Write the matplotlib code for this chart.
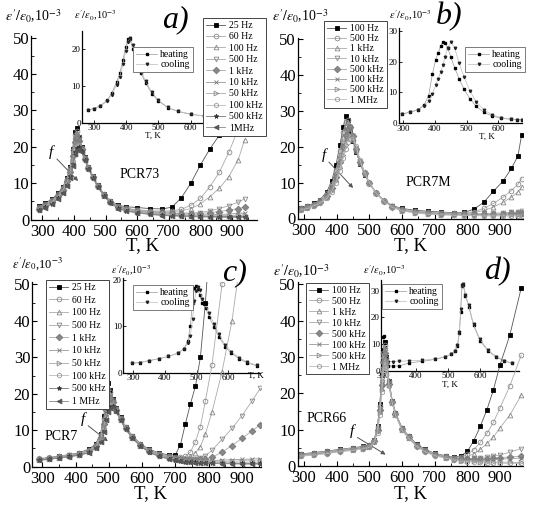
import numpy as np
import matplotlib
matplotlib.use("Agg")
import matplotlib.pyplot as plt

plt.rcParams['font.family'] = 'serif'
plt.rcParams['font.serif'] = ['Liberation Serif', 'DejaVu Serif']
plt.rcParams['mathtext.fontset'] = 'stix'

W, H = 550, 512

# ---------------- data ----------------
# panel a) PCR73
Ta = [290, 310, 330, 350, 365, 378, 388, 396, 403, 409, 416, 424, 434, 446, 460, 476,
      495, 515, 540, 565, 600, 640, 680, 710, 740, 770, 800, 830, 860, 890, 920, 940]
a25 = [3.8, 4.5, 5.6, 7.2, 9.0, 11.5, 14.5, 19.5, 24.0, 25.3, 22.8, 20.0, 17.2, 14.5, 11.9, 9.4,
       7.0, 5.2, 3.9, 3.5, 3.3, 3.0, 2.9, 3.4, 6.0, 10.0, 15.0, 19.4, 23.2, 28.0, 33.0, 37.0]
a60 = [3.5, 4.3, 5.4, 7.0, 8.8, 11.2, 14.2, 19.0, 23.2, 24.4, 22.6, 19.8, 17.0, 14.4, 11.8, 9.3,
       6.9, 5.1, 3.7, 3.1, 2.7, 2.4, 2.3, 2.4, 2.8, 3.9, 5.8, 9.0, 13.0, 18.5, 25.0, 29.0]
a100 = [3.3, 4.1, 5.2, 6.8, 8.6, 11.0, 13.9, 18.5, 22.7, 23.8, 22.4, 19.7, 16.9, 14.3, 11.7, 9.2,
        6.8, 5.0, 3.6, 3.0, 2.6, 2.3, 2.1, 2.2, 2.4, 3.0, 4.3, 6.3, 8.6, 11.8, 16.5, 22.0]
a500 = [3.1, 3.9, 5.0, 6.6, 8.4, 10.7, 13.5, 18.0, 22.0, 23.0, 22.0, 19.5, 16.8, 14.2, 11.6, 9.1,
        6.7, 4.9, 3.5, 2.9, 2.5, 2.1, 1.9, 1.8, 1.8, 1.8, 1.9, 2.4, 3.0, 3.8, 4.8, 5.7]
a1k = [3.0, 3.8, 4.9, 6.5, 8.2, 10.5, 13.2, 17.5, 21.3, 22.4, 21.6, 19.4, 16.7, 14.2, 11.6, 9.1,
       6.7, 4.9, 3.4, 2.8, 2.4, 2.0, 1.8, 1.7, 1.6, 1.6, 1.6, 1.9, 2.2, 2.6, 3.0, 3.4]
a10k = [2.9, 3.7, 4.8, 6.3, 8.0, 10.2, 12.8, 16.8, 20.4, 21.4, 21.2, 19.2, 16.6, 14.1, 11.6, 9.1,
        6.6, 4.8, 3.3, 2.7, 2.2, 1.8, 1.6, 1.4, 1.3, 1.2, 1.2, 1.3, 1.4, 1.5, 1.7, 1.8]
a50k = [2.8, 3.6, 4.7, 6.1, 7.8, 10.0, 12.5, 16.2, 19.8, 20.8, 20.9, 19.1, 16.6, 14.1, 11.6, 9.1,
        6.6, 4.8, 3.2, 2.6, 2.1, 1.7, 1.5, 1.3, 1.2, 1.1, 1.1, 1.1, 1.1, 1.1, 1.2, 1.2]
a100k = [2.7, 3.5, 4.6, 6.0, 7.6, 9.8, 12.2, 15.8, 19.3, 20.3, 20.5, 19.0, 16.5, 14.0, 11.5, 9.0,
         6.5, 4.7, 3.1, 2.5, 2.0, 1.6, 1.4, 1.2, 1.1, 1.0, 1.0, 1.0, 1.0, 1.0, 1.0, 1.0]
a500k = [2.6, 3.4, 4.4, 5.8, 7.4, 9.5, 11.9, 15.3, 18.7, 19.7, 20.0, 18.8, 16.4, 14.0, 11.5, 9.0,
         6.5, 4.7, 3.1, 2.4, 1.9, 1.5, 1.2, 1.1, 1.0, 0.9, 0.9, 0.8, 0.8, 0.8, 0.8, 0.8]
a1M = [2.5, 3.3, 4.3, 5.6, 7.2, 9.2, 11.5, 14.8, 18.0, 19.1, 19.5, 18.6, 16.3, 13.9, 11.4, 8.9,
       6.4, 4.6, 3.0, 2.3, 1.8, 1.4, 1.1, 1.0, 0.9, 0.8, 0.7, 0.7, 0.6, 0.6, 0.6, 0.6]
a_labels = ['25 Hz', '60 Hz', '100 Hz', '500 Hz', '1 kHz', '10 kHz', '50 kHz', '100 kHz', '500 kHz', '1MHz']

Ta_in = [280, 300, 320, 340, 355, 370, 380, 390, 398, 405, 412, 420, 430, 445, 460, 480, 500,
         530, 560, 600, 640, 680, 700]
a_heat = [3.4, 3.8, 4.6, 6.0, 8.0, 11.0, 13.5, 17.0, 20.5, 22.8, 22.6, 20.0, 17.2, 13.6, 10.8, 7.8,
          5.8, 4.0, 3.0, 2.2, 1.8, 1.5, 1.4]
a_cool = [3.5, 3.6, 4.4, 5.8, 7.6, 10.2, 12.5, 15.8, 19.5, 22.0, 23.0, 21.0, 18.0, 14.2, 11.2, 8.2,
          6.0, 4.1, 3.1, 2.3, 1.8, 1.5, 1.4]

# panel b) PCR7M
Tb = [290, 310, 330, 350, 370, 385, 398, 410, 420, 428, 435, 442, 450, 460, 472, 486, 500,
      520, 545, 570, 600, 640, 680, 720, 760, 790, 820, 850, 880, 910, 935, 955, 966]
b100 = [3.0, 3.5, 4.2, 5.3, 7.5, 10.5, 15.0, 20.5, 25.5, 28.5, 27.5, 24.5, 21.5, 18.5, 15.2, 12.2, 9.8,
        7.2, 5.0, 3.6, 2.8, 2.3, 2.0, 1.8, 1.6, 1.7, 2.6, 4.5, 7.6, 10.5, 14.0, 17.5, 23.2]
b500 = [2.9, 3.4, 4.1, 5.1, 7.0, 9.6, 13.5, 18.8, 24.0, 27.0, 27.5, 25.2, 22.0, 18.8, 15.4, 12.3, 9.8,
        7.2, 5.0, 3.5, 2.6, 2.1, 1.8, 1.6, 1.5, 1.6, 1.9, 2.8, 4.2, 6.0, 7.8, 9.5, 11.1]
b1k = [2.8, 3.3, 4.0, 5.0, 6.8, 9.2, 12.8, 17.8, 22.8, 26.0, 27.0, 25.3, 22.3, 19.0, 15.5, 12.4, 9.9,
       7.2, 5.0, 3.5, 2.5, 2.0, 1.7, 1.5, 1.4, 1.5, 1.7, 2.2, 3.2, 4.5, 6.0, 7.4, 8.8]
b10k = [2.7, 3.2, 3.9, 4.8, 6.5, 8.8, 12.0, 16.5, 21.0, 24.2, 25.8, 25.5, 22.8, 19.3, 15.7, 12.5, 9.9,
        7.2, 4.9, 3.4, 2.4, 1.9, 1.6, 1.4, 1.3, 1.3, 1.3, 1.4, 1.5, 1.6, 1.7, 1.9, 2.0]
b50k = [2.6, 3.1, 3.8, 4.7, 6.3, 8.5, 11.5, 15.8, 20.0, 23.2, 25.0, 25.4, 23.0, 19.5, 15.8, 12.6, 9.9,
        7.2, 4.9, 3.3, 2.3, 1.8, 1.5, 1.3, 1.2, 1.2, 1.2, 1.2, 1.3, 1.3, 1.4, 1.4, 1.5]
b100k = [2.5, 3.0, 3.7, 4.6, 6.1, 8.2, 11.0, 15.0, 19.0, 22.2, 24.2, 25.0, 23.2, 19.7, 15.9, 12.7, 10.0,
         7.2, 4.9, 3.3, 2.3, 1.7, 1.4, 1.2, 1.1, 1.1, 1.1, 1.1, 1.1, 1.1, 1.1, 1.1, 1.1]
b500k = [2.4, 2.9, 3.6, 4.4, 5.8, 7.8, 10.4, 14.0, 17.7, 20.5, 22.4, 23.4, 23.2, 20.0, 16.0, 12.8, 10.0,
         7.2, 4.8, 3.2, 2.2, 1.6, 1.3, 1.1, 1.0, 0.9, 0.9, 0.9, 0.9, 0.9, 0.9, 0.9, 0.9]
b1M = [2.3, 2.8, 3.5, 4.3, 5.6, 7.5, 10.0, 13.3, 16.8, 19.5, 21.3, 22.3, 22.5, 20.2, 16.2, 12.9, 10.0,
       7.2, 4.8, 3.1, 2.1, 1.5, 1.2, 1.0, 0.9, 0.8, 0.8, 0.7, 0.7, 0.7, 0.7, 0.7, 0.7]
b_labels = ['100 Hz', '500 Hz', '1 kHz', '10 kHz', '500 kHz', '100 kHz', '500 kHz', '1 MHz']

Tb_in = [295, 320, 345, 365, 380, 392, 402, 410, 418, 425, 432, 440, 450, 462, 476, 492, 510,
         530, 555, 580, 610, 640, 660, 675]
b_heat = [3.0, 3.6, 4.4, 5.8, 9.0, 16.0, 20.5, 22.8, 25.0, 26.4, 26.0, 24.5, 21.5, 18.0, 14.5, 11.0,
          8.0, 5.5, 3.5, 2.4, 1.6, 1.3, 1.2, 1.1]
b_cool = [3.0, 3.5, 4.3, 5.6, 7.2, 9.5, 12.3, 14.5, 16.5, 18.8, 21.5, 24.5, 26.4, 24.5, 19.5, 15.0,
          10.5, 7.0, 4.3, 2.8, 1.8, 1.4, 1.2, 1.1]

# panel c) PCR7
Tc = [290, 320, 350, 380, 410, 440, 460, 475, 485, 492, 498, 504, 512, 522, 535, 550, 570,
      595, 620, 650, 680, 700, 715, 730, 745, 760, 775, 790, 810, 840, 870, 900, 930, 955]
c25 = [2.2, 2.5, 2.9, 3.3, 3.8, 4.8, 6.2, 9.0, 14.0, 19.5, 23.0, 21.0, 18.5, 16.0, 13.5, 11.0, 8.5,
       6.3, 4.8, 3.8, 3.2, 3.3, 6.0, 11.8, 17.2, 22.0, 30.0, 45.0, 70.0, None, None, None, None, None]
c60 = [2.1, 2.4, 2.8, 3.2, 3.7, 4.6, 6.0, 8.6, 13.2, 18.0, 21.2, 20.4, 18.2, 15.9, 13.4, 10.9, 8.4,
       6.2, 4.7, 3.6, 3.0, 2.7, 2.6, 2.8, 4.0, 6.8, 11.0, 18.0, 28.0, 50.0, 80.0, None, None, None]
c100 = [2.1, 2.4, 2.8, 3.2, 3.6, 4.5, 5.9, 8.3, 12.6, 17.0, 20.0, 20.0, 18.0, 15.8, 13.3, 10.8, 8.3,
        6.1, 4.6, 3.5, 2.8, 2.5, 2.4, 2.4, 2.8, 3.8, 5.5, 9.0, 15.0, 26.0, 40.0, 60.0, None, None]
c500 = [2.0, 2.3, 2.7, 3.1, 3.5, 4.4, 5.7, 8.0, 12.0, 16.2, 19.0, 19.4, 17.8, 15.7, 13.2, 10.7, 8.2,
        6.0, 4.5, 3.4, 2.7, 2.3, 2.1, 2.0, 2.0, 2.1, 2.3, 3.0, 4.5, 7.5, 10.5, 14.0, 18.0, 21.5]
c1k = [2.0, 2.3, 2.7, 3.0, 3.4, 4.3, 5.6, 7.8, 11.6, 15.6, 18.2, 18.8, 17.6, 15.6, 13.1, 10.6, 8.1,
       5.9, 4.4, 3.3, 2.6, 2.2, 2.0, 1.9, 1.9, 1.9, 2.0, 2.2, 2.6, 4.0, 5.8, 7.8, 9.8, 11.5]
c10k = [1.9, 2.2, 2.6, 2.9, 3.3, 4.2, 5.4, 7.5, 11.0, 14.8, 17.2, 18.0, 17.3, 15.5, 13.0, 10.5, 8.0,
        5.8, 4.3, 3.2, 2.5, 2.1, 1.9, 1.7, 1.6, 1.6, 1.6, 1.6, 1.7, 1.8, 1.9, 2.0, 2.1, 2.2]
c50k = [1.9, 2.2, 2.5, 2.9, 3.3, 4.1, 5.3, 7.3, 10.6, 14.2, 16.6, 17.5, 17.0, 15.4, 12.9, 10.5, 8.0,
        5.8, 4.2, 3.1, 2.4, 2.0, 1.8, 1.6, 1.5, 1.5, 1.5, 1.5, 1.5, 1.5, 1.5, 1.6, 1.6, 1.6]
c100k = [1.8, 2.1, 2.5, 2.8, 3.2, 4.0, 5.2, 7.1, 10.2, 13.7, 16.0, 17.0, 16.8, 15.3, 12.9, 10.4, 7.9,
         5.7, 4.1, 3.0, 2.3, 1.9, 1.7, 1.5, 1.4, 1.4, 1.3, 1.3, 1.3, 1.2, 1.2, 1.2, 1.2, 1.2]
c500k = [1.8, 2.1, 2.4, 2.8, 3.2, 3.9, 5.1, 6.9, 9.8, 13.2, 15.5, 16.5, 16.6, 15.2, 12.8, 10.4, 7.9,
         5.7, 4.1, 2.9, 2.2, 1.8, 1.6, 1.4, 1.3, 1.2, 1.1, 1.1, 1.0, 1.0, 0.9, 0.9, 0.9, 0.9]
c1M = [1.7, 2.0, 2.4, 2.7, 3.1, 3.8, 5.0, 6.7, 9.4, 12.7, 15.0, 16.0, 16.3, 15.0, 12.8, 10.3, 7.8,
       5.6, 4.0, 2.8, 2.1, 1.7, 1.5, 1.3, 1.2, 1.1, 1.0, 0.9, 0.9, 0.8, 0.8, 0.7, 0.7, 0.7]
c_labels = ['25 Hz', '60 Hz', '100 Hz', '500 Hz', '1 kHz', '10 kHz', '50 kHz', '100 kHz', '500 kHz', '1 MHz']

Tc_in = [295, 320, 350, 380, 410, 440, 460, 472, 480, 487, 493, 498, 503, 510, 518, 528, 540,
         555, 570, 590, 610, 635, 660, 690]
c_heat = [2.0, 2.2, 2.6, 3.0, 3.5, 4.2, 5.2, 6.8, 10.0, 15.0, 18.3, 18.6, 18.0, 16.8, 15.0, 14.0,
          12.0, 9.8, 7.8, 5.6, 4.2, 3.0, 2.1, 1.5]
c_cool = [2.0, 2.2, 2.6, 3.0, 3.5, 4.2, 5.1, 6.3, 8.0, 11.5, 15.5, 17.6, 18.5, 17.8, 16.0, 14.8,
          12.8, 10.5, 8.4, 6.0, 4.5, 3.2, 2.3, 1.6]

# panel d) PCR66
Td = [290, 330, 370, 410, 450, 480, 500, 515, 525, 532, 538, 543, 547, 552, 560, 570, 580,
      600, 620, 645, 670, 700, 735, 760, 780, 800, 820, 840, 860, 880, 900, 930, 965]
d100 = [3.3, 3.7, 4.1, 4.6, 5.0, 5.4, 5.8, 7.2, 11.0, 17.0, 25.0, 32.0, 34.0, 30.0, 23.5, 18.0, 14.7,
        10.5, 8.3, 6.0, 4.6, 3.5, 2.8, 2.4, 2.8, 4.0, 7.0, 11.0, 15.5, 21.0, 27.8, 36.0, 49.0]
d500 = [3.2, 3.6, 4.0, 4.5, 4.9, 5.3, 5.7, 7.1, 10.8, 16.6, 24.4, 31.2, 33.2, 29.6, 23.3, 17.9, 14.6,
        10.4, 8.2, 5.9, 4.5, 3.4, 2.7, 2.3, 2.6, 3.2, 4.5, 6.5, 9.0, 12.0, 16.0, 22.0, 30.5]
d1k = [3.1, 3.5, 3.9, 4.4, 4.8, 5.2, 5.6, 7.0, 10.5, 16.2, 23.8, 30.4, 32.5, 29.2, 23.1, 17.8, 14.5,
       10.3, 8.1, 5.8, 4.4, 3.3, 2.6, 2.2, 2.3, 2.6, 3.4, 4.6, 6.2, 8.0, 10.5, 14.0, 19.5]
d10k = [3.0, 3.4, 3.8, 4.3, 4.7, 5.1, 5.5, 6.9, 10.2, 15.7, 23.0, 29.5, 31.8, 28.8, 22.9, 17.7, 14.4,
        10.2, 8.0, 5.7, 4.3, 3.2, 2.5, 2.1, 2.0, 2.0, 2.1, 2.3, 2.5, 2.8, 3.0, 3.8, 4.8]
d50k = [2.9, 3.3, 3.7, 4.2, 4.6, 5.0, 5.4, 6.8, 10.0, 15.3, 22.3, 28.6, 31.0, 28.4, 22.7, 17.6, 14.3,
        10.1, 7.9, 5.6, 4.2, 3.1, 2.4, 2.0, 1.8, 1.8, 1.8, 1.9, 2.0, 2.1, 2.3, 2.5, 2.7]
d100k = [2.9, 3.2, 3.6, 4.1, 4.5, 4.9, 5.3, 6.7, 9.8, 14.9, 21.6, 27.7, 30.2, 28.0, 22.5, 17.5, 14.2,
         10.0, 7.8, 5.5, 4.1, 3.0, 2.3, 1.9, 1.7, 1.6, 1.6, 1.7, 1.7, 1.8, 1.9, 2.0, 2.2]
d500k = [2.8, 3.1, 3.5, 4.0, 4.4, 4.8, 5.2, 6.6, 9.5, 14.5, 21.0, 26.8, 29.3, 27.6, 22.3, 17.4, 14.1,
         9.9, 7.7, 5.4, 4.0, 2.9, 2.2, 1.7, 1.5, 1.4, 1.3, 1.2, 1.2, 1.1, 1.1, 1.0, 1.0]
d1M = [2.7, 3.0, 3.4, 3.9, 4.3, 4.7, 5.1, 6.5, 9.2, 14.0, 20.3, 25.8, 28.4, 27.2, 22.1, 17.3, 14.0,
       9.8, 7.6, 5.3, 3.9, 2.8, 2.1, 1.6, 1.3, 1.2, 1.1, 1.0, 0.9, 0.9, 0.8, 0.7, 0.7]
d_labels = ['100 Hz', '500 Hz', '1 kHz', '10 kHz', '500 kHz', '100 kHz', '500 kHz', '1 MHz']

Td_in = [298, 301, 304, 308, 315, 330, 350, 380, 420, 460, 490, 510, 522, 530, 536, 540, 544,
         548, 555, 565, 580, 600, 625, 650, 675, 700]
d_heat = [12.5, 13.0, 9.0, 3.0, 2.0, 1.8, 1.9, 3.0, 3.6, 4.3, 5.2, 6.2, 7.5, 9.5, 14.0, 22.0, 31.5,
          32.0, 28.0, 24.0, 17.0, 11.3, 7.5, 5.2, 3.8, 2.8]
d_cool = [3.0, 3.2, 3.3, 3.4, 3.4, 3.5, 3.6, 3.8, 4.0, 4.5, 5.3, 6.3, 7.6, 9.6, 14.5, 23.0, 32.0,
          32.5, 28.5, 24.5, 17.5, 11.8, 7.8, 5.4, 3.9, 2.8]

# marker styles: (marker, face, edge, line colour)
styles10 = [('s', 'k', 'k', '#555'), ('o', 'none', '#888', '#aaa'), ('^', 'none', '#888', '#aaa'),
            ('v', 'none', '#888', '#aaa'), ('D', '#888', '#777', '#aaa'), ('x', '#777', '#777', '#999'),
            ('>', 'none', '#888', '#aaa'), ('h', 'none', '#999', '#bbb'), ('*', '#333', '#333', '#777'),
            ('<', '#555', '#555', '#888')]
styles8 = styles10[:8]

fig = plt.figure(figsize=(5.5, 5.12), dpi=100)


def place(x0v, x0p, x1v, x1p, xlim, y0p, y1v, y1p, ylim, z):
    sx = (x1p - x0p) / (x1v - x0v)
    left = x0p + (xlim[0] - x0v) * sx
    right = x0p + (xlim[1] - x0v) * sx
    sy = (y0p - y1p) / y1v
    bottom = y0p - ylim[0] * sy
    top = y0p - ylim[1] * sy
    ax = fig.add_axes([left / W, 1 - bottom / H, (right - left) / W, (bottom - top) / H], zorder=z)
    ax.set_xlim(xlim)
    ax.set_ylim(ylim)
    ax.patch.set_alpha(0)
    for s in ['top', 'right']:
        ax.spines[s].set_visible(False)
    for s in ['left', 'bottom']:
        ax.spines[s].set_linewidth(0.9)
    return ax


def main_panel(ax, T, series, labels, styles, leg_xy, spacing, legsize=7):
    for ys, lab, (m, fc, ec, lc) in zip(series, labels, styles):
        y = np.array(ys, dtype=float)
        ax.plot(T, y, color=lc, lw=0.6, marker=m, ms=3.4, mfc=fc, mec=ec, mew=0.6, label=lab)
    ax.set_xticks([300, 400, 500, 600, 700, 800, 900])
    ax.set_yticks([0, 10, 20, 30, 40, 50])
    ax.set_xticks(np.arange(300, 951, 50), minor=True)
    ax.set_yticks(np.arange(0, 51, 5), minor=True)
    ax.tick_params(which='both', direction='in', labelsize=12)
    ax.tick_params(axis='x', pad=3)
    ax.tick_params(axis='y', pad=1.5)
    ax.tick_params(which='major', length=3.5, width=0.8)
    ax.tick_params(which='minor', length=2, width=0.6)
    leg = ax.legend(loc='upper left', bbox_to_anchor=(leg_xy[0] / W, 1 - leg_xy[1] / H),
                    bbox_transform=fig.transFigure, fontsize=legsize, frameon=True, fancybox=False,
                    edgecolor='#444', framealpha=1, borderpad=0.3, handlelength=2.0,
                    handletextpad=0.4, labelspacing=spacing, borderaxespad=0)
    leg.get_frame().set_linewidth(0.7)


def inset_panel(ax, T, heat, cool, xt, yt, leg_xy):
    ax.plot(T, heat, color='#999', lw=0.5, marker='s', ms=1.8, mfc='k', mec='k', label='heating')
    ax.plot(T, cool, color='#bbb', lw=0.5, marker='v', ms=1.8, mfc='#222', mec='#222', label='cooling')
    ax.set_xticks(xt)
    ax.set_yticks(yt)
    ax.tick_params(direction='in', labelsize=6.5, length=2.5, width=0.6, pad=1)
    leg = ax.legend(loc='upper left', bbox_to_anchor=(leg_xy[0] / W, 1 - leg_xy[1] / H),
                    bbox_transform=fig.transFigure, fontsize=7, frameon=True, fancybox=False,
                    edgecolor='#666', framealpha=1, borderpad=0.3, handlelength=2.2,
                    handletextpad=0.3, labelspacing=0.15, borderaxespad=0)
    leg.get_frame().set_linewidth(0.6)


def ftext(x, y, s, **kw):
    fig.text(x / W, 1 - y / H, s, **kw)


def f_arrow(xt, yt, x0, y0, x1, y1):
    ftext(xt, yt, 'f', fontsize=11, style='italic', ha='center', va='center')
    fig.add_artist(matplotlib.patches.FancyArrowPatch(
        (x0 / W, 1 - y0 / H), (x1 / W, 1 - y1 / H), transform=fig.transFigure,
        arrowstyle='-|>', mutation_scale=6, color='#555', lw=0.7))


ylab = r"$\varepsilon'/\varepsilon_0$,10$^{-3}$"
xt_in = [300, 400, 500, 600]

# ----- panel a
ins = place(300, 94, 600, 190.7, (263, 700), 122.5, 20, 49, (0, 25), 1)
inset_panel(ins, Ta_in, a_heat, a_cool, xt_in, [0, 10, 20], (133, 47))
ins.set_xlabel('T, K', fontsize=6.5, labelpad=0)
ax = place(300, 42.3, 900, 232, (265, 980), 219.5, 50, 37.7, (0, 50.5), 2)
main_panel(ax, Ta, [a25, a60, a100, a500, a1k, a10k, a50k, a100k, a500k, a1M], a_labels,
           styles10, (203, 18), 0.25)
ftext(33, 16, ylab, fontsize=10, ha='center', va='center')
ftext(95, 16, ylab, fontsize=7.5, ha='center', va='center')
ftext(175, 20, 'a)', fontsize=23, style='italic', ha='center', va='center')
ftext(142, 246, 'T, K', fontsize=13.5, ha='center', va='center')
ftext(140, 175, 'PCR73', fontsize=10, ha='center', va='center')
f_arrow(51, 152, 55, 157, 80, 183)

# ----- panel b
ins = place(300, 403.3, 600, 498.3, (286, 675), 123.3, 30, 30.7, (0, 31), 1)
inset_panel(ins, Tb_in, b_heat, b_cool, xt_in, [0, 10, 20, 30], (465, 47))
ftext(487, 137, 'T, K', fontsize=6.5, ha='center', va='center')
ax = place(300, 304, 900, 500, (282, 970), 218.5, 50, 39.3, (0, 50.5), 2)
main_panel(ax, Tb, [b100, b500, b1k, b10k, b50k, b100k, b500k, b1M], b_labels,
           styles8, (324, 21), 0.13)
ftext(300, 16, ylab, fontsize=10, ha='center', va='center')
ftext(410, 16, ylab, fontsize=7.5, ha='center', va='center')
ftext(449, 17, 'b)', fontsize=23, style='italic', ha='center', va='center')
ftext(410, 246, 'T, K', fontsize=13.5, ha='center', va='center')
ftext(428, 182, 'PCR7M', fontsize=10, ha='center', va='center')
f_arrow(324, 155, 327, 160, 355, 190)

# ----- panel c
ins = place(300, 133.3, 600, 228.3, (268, 700), 372.7, 20, 280, (0, 20.5), 1)
inset_panel(ins, Tc_in, c_heat, c_cool, xt_in, [0, 10, 20], (133, 285))
ax = place(300, 42.3, 900, 242, (270, 957), 466.7, 50, 284.3, (0, 50.5), 2)
main_panel(ax, Tc, [c25, c60, c100, c500, c1k, c10k, c50k, c100k, c500k, c1M], c_labels,
           styles10, (46, 280), 0.38)
ftext(38, 264, ylab, fontsize=9, ha='center', va='center')
ftext(131, 271, ylab, fontsize=7, ha='center', va='center')
ftext(234, 273, 'c)', fontsize=23, style='italic', ha='center', va='center')
ftext(248, 376, 'T, K', fontsize=6.5, ha='left', va='center')
ftext(150, 494, 'T, K', fontsize=13.5, ha='center', va='center')
ftext(61, 436, 'PCR7', fontsize=10, ha='center', va='center')
f_arrow(83, 419, 86, 424, 110, 443)

# ----- panel d
ins = place(300, 383.3, 600, 480, (294, 720), 371, 30, 290.5, (0, 34), 1)
inset_panel(ins, Td_in, d_heat, d_cool, xt_in, [0, 10, 20, 30], (382, 284))
ins.set_xlabel('T, K', fontsize=6.5, labelpad=0)
ax = place(300, 304, 900, 500, (282, 970), 466, 50, 284.3, (0, 50.5), 2)
main_panel(ax, Td, [d100, d500, d1k, d10k, d50k, d100k, d500k, d1M], d_labels,
           styles8, (306, 283), 0.2)
ftext(301, 271, ylab, fontsize=10, ha='center', va='center')
ftext(384, 271, ylab, fontsize=7.5, ha='center', va='center')
ftext(497, 272, 'd)', fontsize=23, style='italic', ha='center', va='center')
ftext(410, 494, 'T, K', fontsize=13.5, ha='center', va='center')
ftext(327, 419, 'PCR66', fontsize=10, ha='center', va='center')
f_arrow(352, 431, 355, 436, 388, 456)

fig.savefig('out.png', dpi=100)
